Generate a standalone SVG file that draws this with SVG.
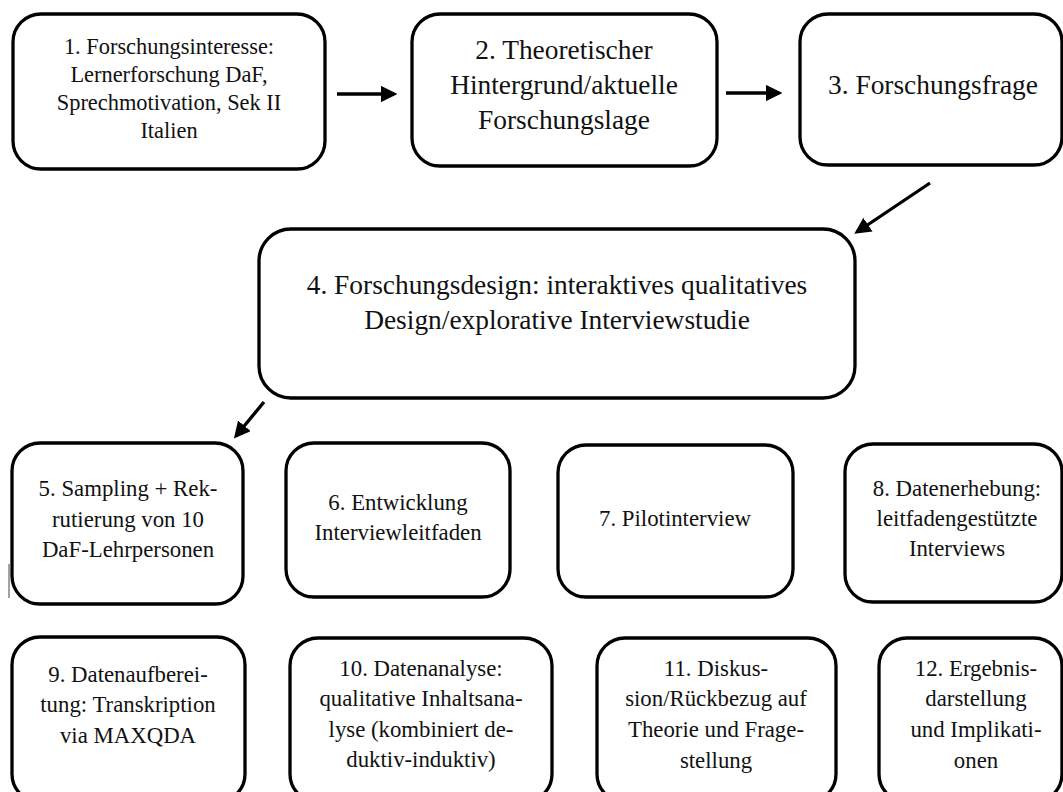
<svg xmlns="http://www.w3.org/2000/svg" width="1063" height="792" viewBox="0 0 1063 792">
<style>
.box{fill:#fff;stroke:#000;stroke-width:3.3}
.t{font-family:"Liberation Serif","Times New Roman",serif;fill:#111;text-anchor:middle}
.s22{font-size:22.4px}
.s27{font-size:27.4px}
.s23{font-size:22.8px}
.con{stroke:#000;stroke-width:3.3;fill:none;marker-end:url(#ah)}
</style>
<defs>
<marker id="ah" markerWidth="5" markerHeight="5" refX="4" refY="2.5" orient="auto" markerUnits="strokeWidth">
<path d="M0,0 L5,2.5 L0,5 Z" fill="#000"/>
</marker>
</defs>
<rect width="1063" height="792" fill="#fff"/>
<g id="connectors">
<line class="con" x1="337" y1="94" x2="394" y2="94"/>
<line class="con" x1="726" y1="93" x2="779" y2="93"/>
<line class="con" x1="930" y1="183" x2="857" y2="232"/>
<line class="con" x1="264" y1="402" x2="236" y2="436"/>
</g>
<g id="n1"><rect class="box" x="13" y="14" width="312" height="155" rx="28"/>
<text class="t s22"><tspan x="169" y="54">1. Forschungsinteresse:</tspan><tspan x="169" y="82">Lernerforschung DaF,</tspan><tspan x="169" y="110">Sprechmotivation, Sek II</tspan><tspan x="169" y="138">Italien</tspan></text></g>
<g id="n2"><rect class="box" x="412" y="14" width="305" height="152" rx="28"/>
<text class="t s27"><tspan x="564" y="59">2. Theoretischer</tspan><tspan x="564" y="94">Hintergrund/aktuelle</tspan><tspan x="564" y="129">Forschungslage</tspan></text></g>
<g id="n3"><rect class="box" x="800" y="14" width="262" height="151" rx="28"/>
<text class="t s27"><tspan x="933" y="94">3. Forschungsfrage</tspan></text></g>
<g id="n4"><rect class="box" x="259" y="229" width="596" height="169" rx="32"/>
<text class="t s27"><tspan x="557" y="294">4. Forschungsdesign: interaktives qualitatives</tspan><tspan x="557" y="329">Design/explorative Interviewstudie</tspan></text></g>
<g id="n5"><rect class="box" x="12" y="443" width="231" height="161" rx="28"/>
<line x1="9" y1="564" x2="9" y2="598" stroke="#666" stroke-width="1.2"/>
<text class="t s23"><tspan x="128" y="496">5. Sampling + Rek-</tspan><tspan x="128" y="527">rutierung von 10</tspan><tspan x="128" y="557">DaF-Lehrpersonen</tspan></text></g>
<g id="n6"><rect class="box" x="286" y="443" width="224" height="154" rx="28"/>
<text class="t s23"><tspan x="398" y="510">6. Entwicklung</tspan><tspan x="398" y="540">Interviewleitfaden</tspan></text></g>
<g id="n7"><rect class="box" x="558" y="445" width="235" height="152" rx="28"/>
<text class="t s23"><tspan x="675" y="526">7. Pilotinterview</tspan></text></g>
<g id="n8"><rect class="box" x="845" y="444" width="217" height="158" rx="28"/>
<text class="t s23"><tspan x="957" y="496">8. Datenerhebung:</tspan><tspan x="957" y="526">leitfadengestützte</tspan><tspan x="957" y="556">Interviews</tspan></text></g>
<g id="n9"><rect class="box" x="12" y="637" width="233" height="165" rx="28"/>
<text class="t s23"><tspan x="128" y="682">9. Datenaufberei-</tspan><tspan x="128" y="712">tung: Transkription</tspan><tspan x="128" y="743">via MAXQDA</tspan></text></g>
<g id="n10"><rect class="box" x="290" y="638" width="262" height="164" rx="28"/>
<text class="t s23"><tspan x="421" y="676">10. Datenanalyse:</tspan><tspan x="421" y="706">qualitative Inhaltsana-</tspan><tspan x="421" y="737">lyse (kombiniert de-</tspan><tspan x="421" y="767">duktiv-induktiv)</tspan></text></g>
<g id="n11"><rect class="box" x="597" y="638" width="239" height="164" rx="28"/>
<text class="t s23"><tspan x="716" y="676">11. Diskus-</tspan><tspan x="716" y="706">sion/Rückbezug auf</tspan><tspan x="716" y="737">Theorie und Frage-</tspan><tspan x="716" y="768">stellung</tspan></text></g>
<g id="n12"><rect class="box" x="879" y="638" width="183" height="164" rx="28"/>
<text class="t s23"><tspan x="976" y="676">12. Ergebnis-</tspan><tspan x="976" y="706">darstellung</tspan><tspan x="976" y="737">und Implikati-</tspan><tspan x="976" y="768">onen</tspan></text></g>
</svg>
